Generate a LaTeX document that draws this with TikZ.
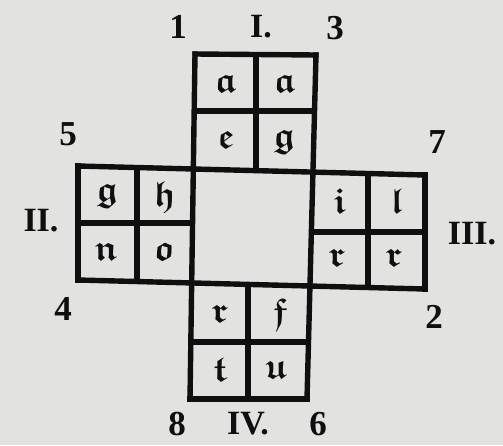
\documentclass[tikz,border=0pt]{standalone}
\usepackage{amsmath,amssymb}
\usepackage{fontspec}
\setmainfont{Liberation Serif}
\definecolor{paper}{RGB}{226,226,224}
\definecolor{ink}{RGB}{15,15,15}
\newcommand{\fk}[1]{$\boldsymbol{\mathfrak{#1}}$}
\tikzset{
  gridline/.style={draw=ink,line width=5.4pt,line cap=rect},
  innerline/.style={draw=ink,line width=5.2pt,line cap=butt},
  cellletter/.style={font=\fontsize{36}{36}\selectfont,text=ink,inner sep=0pt},
  numlabel/.style={font=\fontsize{35}{35}\selectfont\bfseries,text=ink,inner sep=0pt},
  romanlabel/.style={font=\fontsize{34}{34}\selectfont\bfseries,text=ink,inner sep=0pt}
}
\begin{document}
\begin{tikzpicture}[x=1pt,y=-1pt]
\useasboundingbox (0,0) rectangle (503,445);
\fill[paper] (0,0) rectangle (503,445);
% grid corner coordinates
\coordinate (Lt) at (195,54);
\coordinate (Lb) at (190,399);
\coordinate (Rt) at (316,55);
\coordinate (Rb) at (307,399);
\coordinate (Tl) at (78,166);
\coordinate (Tr) at (425,175);
\coordinate (Bl) at (78,280);
\coordinate (Br) at (425,289);
% inner lines of arms
\coordinate (Imt) at (256,54);
\coordinate (Imb) at (256,169);
\coordinate (Iml) at (195,111);
\coordinate (Imr) at (315,111);
\coordinate (IImt) at (137,167);
\coordinate (IImb) at (137,282);
\coordinate (IIml) at (78,223);
\coordinate (IImr) at (193,223);
\coordinate (IIImt) at (368,174);
\coordinate (IIImb) at (368,288);
\coordinate (IIIml) at (311,232);
\coordinate (IIImr) at (425,232);
\coordinate (IVmt) at (248,285);
\coordinate (IVmb) at (248,399);
\coordinate (IVml) at (191,342);
\coordinate (IVmr) at (308,342);
% main lines
\draw[gridline] (Lt) -- (Lb);
\draw[gridline] (Rt) -- (Rb);
\draw[gridline] (Tl) -- (Tr);
\draw[gridline] (Bl) -- (Br);
\draw[gridline] (Lt) -- (Rt);
\draw[gridline] (Lb) -- (Rb);
\draw[gridline] (Tl) -- (Bl);
\draw[gridline] (Tr) -- (Br);
\draw[innerline] (Imt) -- (Imb);
\draw[innerline] (Iml) -- (Imr);
\draw[innerline] (IImt) -- (IImb);
\draw[innerline] (IIml) -- (IImr);
\draw[innerline] (IIImt) -- (IIImb);
\draw[innerline] (IIIml) -- (IIImr);
\draw[innerline] (IVmt) -- (IVmb);
\draw[innerline] (IVml) -- (IVmr);
% letters
\node[cellletter] (c1) at (226,84) {\fk{a}};
\node[cellletter] (c2) at (285,84) {\fk{a}};
\node[cellletter] (c3) at (226,140) {\fk{e}};
\node[cellletter] (c4) at (284,142) {\fk{g}};
\node[cellletter] (c5) at (107,196) {\fk{g}};
\node[cellletter] (c6) at (165,197) {\fk{h}};
\node[cellletter] (c7) at (107,252) {\fk{n}};
\node[cellletter] (c8) at (164,252) {\fk{o}};
\node[cellletter] (c9) at (340,201) {\fk{i}};
\node[cellletter] (c10) at (397,201) {\fk{l}};
\node[cellletter] (c11) at (337,258) {\fk{r}};
\node[cellletter] (c12) at (394,258) {\fk{r}};
\node[cellletter] (c13) at (220,314) {\fk{r}};
\node[cellletter] (c14) at (280,314) {\fk{f}};
\node[cellletter] (c15) at (220,370) {\fk{t}};
\node[cellletter] (c16) at (276,370) {\fk{u}};
% labels
\node[numlabel] (n1) at (178,27) {1};
\node[romanlabel] (rI) at (261,27) {I.};
\node[numlabel] (n3) at (335,28) {3};
\node[numlabel] (n5) at (68,134) {5};
\node[numlabel] (n7) at (437,142) {7};
\node[romanlabel] (rII) at (41,221) {II.};
\node[romanlabel] (rIII) at (472,234) {III.};
\node[numlabel] (n4) at (63,309) {4};
\node[numlabel] (n2) at (434,317) {2};
\node[numlabel] (n8) at (177,424) {8};
\node[romanlabel] (rIV) at (248,424) {IV.};
\node[numlabel] (n6) at (318,424) {6};
\end{tikzpicture}
\end{document}
